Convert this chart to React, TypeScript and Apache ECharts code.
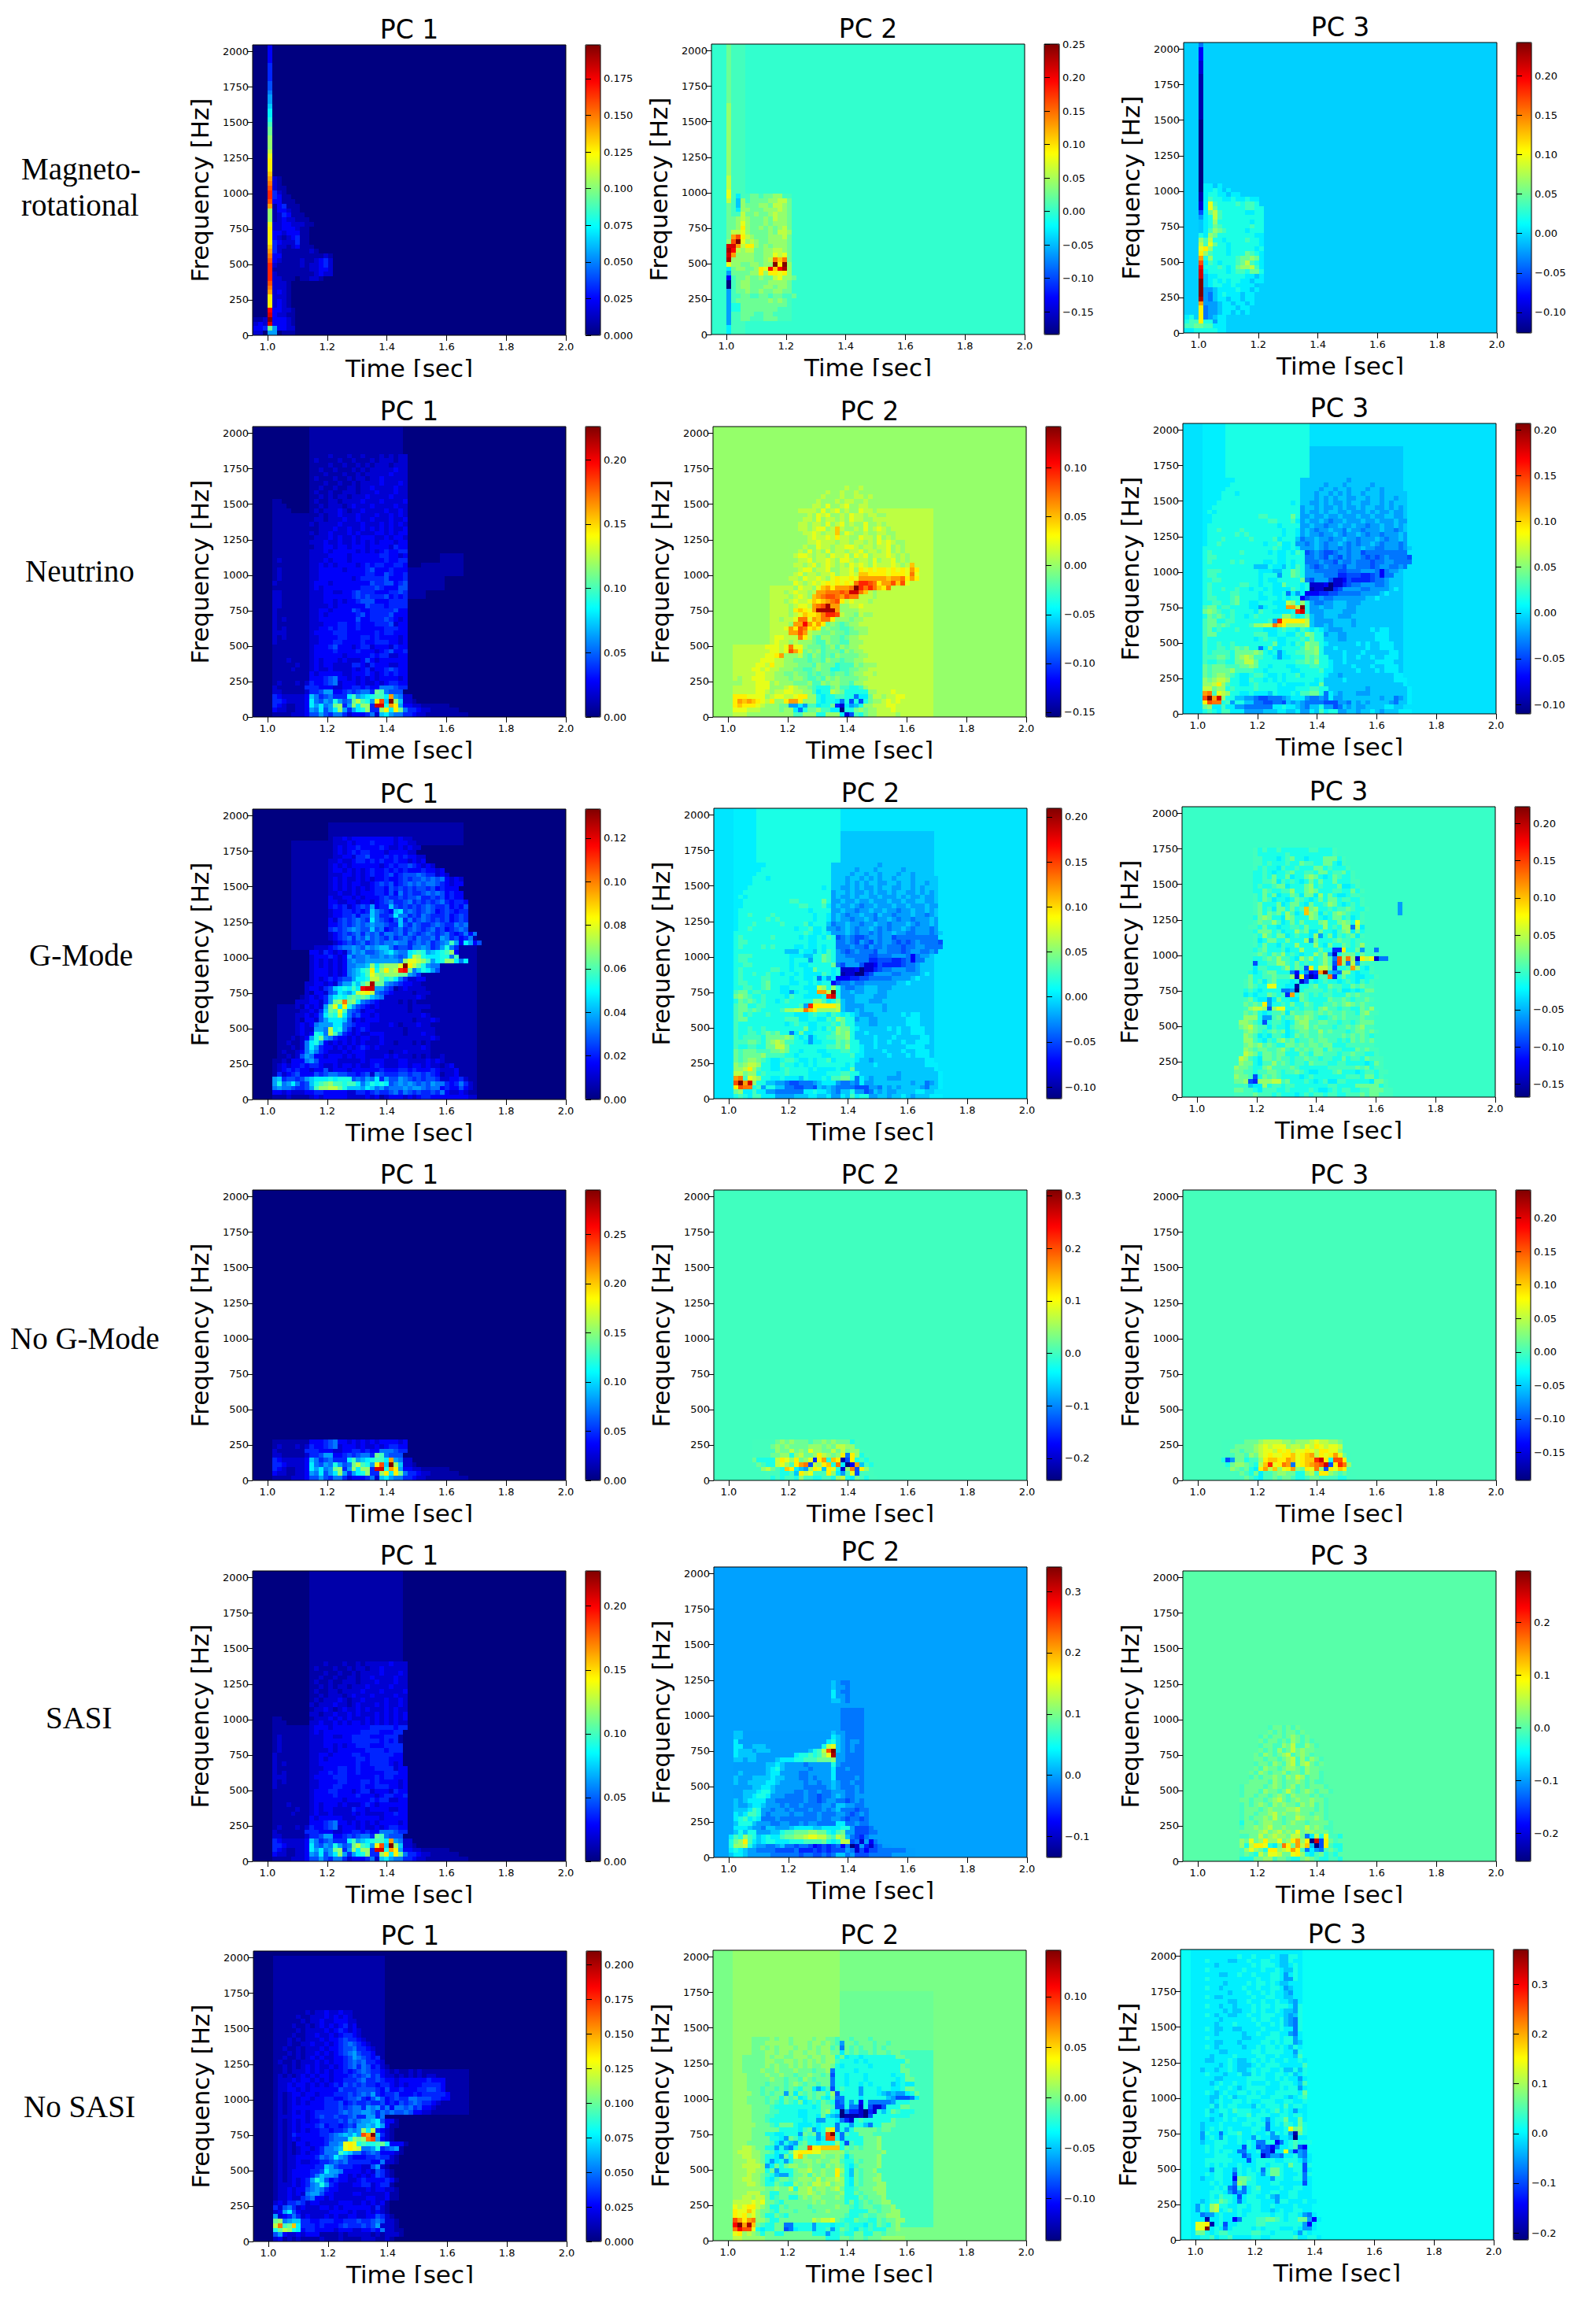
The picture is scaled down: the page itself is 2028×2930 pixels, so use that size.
import { useEffect, useRef } from "react"
import * as echarts from "echarts"

// jet colormap, evenly spaced stops
const jet = ["#000080", "#0000ff", "#0080ff", "#00ffff", "#80ff80", "#ffff00", "#ff8000", "#ff0000", "#800000"]

const rowNames = [["Magneto-", "rotational"], ["Neutrino"], ["G-Mode"], ["No G-Mode"], ["SASI"], ["No SASI"]]
const pcNames = ["PC 1", "PC 2", "PC 3"]
const timeTicks = [1, 1.2, 1.4, 1.6, 1.8, 2]
const freqTicks = [0, 250, 500, 750, 1000, 1250, 1500, 1750, 2000]

// spectrogram cells are 1/64 s by 32 Hz, first column starts at 61/64 s
const FIRST_T = 61 / 64
const DT = 1 / 64
const DF = 32
const LEVELS = "abcdefghijklmnopqrstuvwxyz" // a = bottom of the colorbar, z = top

// plot boxes
const plotLefts = [[321, 904, 1504], [321, 906, 1503], [321, 907, 1502], [321, 907, 1503], [321, 907, 1503], [322, 906, 1500]]
const plotTops = [[57, 56, 54], [542, 542, 538], [1028, 1027, 1025], [1512, 1512, 1512], [1996, 1991, 1996], [2479, 2478, 2477]]
const labelYs = [239, 726, 1214, 1701, 2183, 2677]
const labelLefts = [27, 32, 37, 13, 58, 30]

// colorbar ranges [min, max]
const ranges = [
  [[0, 0.198], [-0.184, 0.2503], [-0.126, 0.242]],
  [[0, 0.2257], [-0.155, 0.1425], [-0.1103, 0.2072]],
  [[0, 0.1333], [-0.113, 0.2096], [-0.1676, 0.2225]],
  [[0, 0.295], [-0.242, 0.311], [-0.192, 0.242]],
  [[0, 0.2276], [-0.134, 0.34], [-0.253, 0.2972]],
  [[0, 0.2097], [-0.142, 0.146], [-0.214, 0.37]],
]
const barTicks = [
  [[0, 0.025, 0.05, 0.075, 0.1, 0.125, 0.15, 0.175], [-0.15, -0.1, -0.05, 0, 0.05, 0.1, 0.15, 0.2, 0.25], [-0.1, -0.05, 0, 0.05, 0.1, 0.15, 0.2]],
  [[0, 0.05, 0.1, 0.15, 0.2], [-0.15, -0.1, -0.05, 0, 0.05, 0.1], [-0.1, -0.05, 0, 0.05, 0.1, 0.15, 0.2]],
  [[0, 0.02, 0.04, 0.06, 0.08, 0.1, 0.12], [-0.1, -0.05, 0, 0.05, 0.1, 0.15, 0.2], [-0.15, -0.1, -0.05, 0, 0.05, 0.1, 0.15, 0.2]],
  [[0, 0.05, 0.1, 0.15, 0.2, 0.25], [-0.2, -0.1, 0, 0.1, 0.2, 0.3], [-0.15, -0.1, -0.05, 0, 0.05, 0.1, 0.15, 0.2]],
  [[0, 0.05, 0.1, 0.15, 0.2], [-0.1, 0, 0.1, 0.2, 0.3], [-0.2, -0.1, 0, 0.1, 0.2]],
  [[0, 0.025, 0.05, 0.075, 0.1, 0.125, 0.15, 0.175, 0.2], [-0.1, -0.05, 0, 0.05, 0.1], [-0.2, -0.1, 0, 0.1, 0.2, 0.3]],
]
const barDecimals = [[3, 2, 2], [2, 2, 2], [2, 2, 2], [2, 1, 2], [2, 1, 1], [3, 2, 1]]
const backgrounds = [[0, 0, -0.005], [0, 0, 0], [0, 0, 0], [0, 0, 0], [0, 0, 0], [0, 0, 0.01]]

// Magneto-rotational
const magPc1Strips = [[3, "hmxzxwqqqstuvvvvutsrqqqqpnnnsuvvutsrqqqponnnmmlkjjihhgffeeeeddddd"]]
const magPc1Rows = [
  "cc.dh.bbb", "dde.hddcc", "cdc.dddcb", "bbc.dddcb", "...bdccbb", "....ddccb", "....cdcb", "....cdcb", "....cccb", "....cdcb",
  "....cccb", "....cccb", "....ccbbb.bbccb", "....cbbbbbbbbcdcc", "....bbbbbbbbccddc", "....cbbbbbcbccdec", "....dcbbbbcbbcdec", "....ddbbbbbbbbbcb",
  "....ecbbbbbbcb", "....eccbcdbbb", "....edcccebb", "....dcbcdebb", "....ddcdddbb", "....ccdddcbb", "....ccddcccbb", "....bcdccbbb", "....bcedbbb", "....bddcbb",
  "....bdebbb", "....ddbbb", "....edbb", "....ecb", "....cbb", "....cb", "....cb",
]
const magPc2Strips = [[3, "jjhhhhhhhhaadhjpyxyxnmmmmmmmmoppooonnnnnnnnnnnnnnnnmmmmmmmmmmmmm"]]
const magPc2Washes = [[4, 6, 0, 63, "l"], [4, 16, 3, 30, "l"]]
const magPc2Rows = [
  "", "", "", "....llmmlllmmmlll", "....llmmmllmmlll", "....kkmmmmmmmmll", "....kkmmmmmmmmmm", "....lmmmmmmmnmnm", "....llmmllmmlmmllm", "....lmmnmmnmmnnmm", "....lmnnmmmnnmnnm",
  "....lmnnmmmmnnnnm", "....lmmnmmnmmopnnm", "....mmmmnnqnqqpqn", "....mnnmmnqpwrwyn", "....nnmmnnmnnzqzn", "....nnnnnmmnotrtm", "....snnnnmmnnpopm", "....wonoommnnoonm",
  "....xsoqqnmnmnnnm", "....uzpnonmmnnnnm", "....suqonmmmnnnom", "....oopnmmmmnmoon", "....mnqnmmnmnmnom", "....mnpnmmmnmnnnm", "....mnonmmmnmonnm", ".....lommnmmnonnm",
  ".....jnnmmmnnnonm", ".....inmmmnnmoonm", ".....inlmmmmnnoom", ".....jllmmlmmnnl",
]
const magPc3Strips = [[3, "kmqqqqsyzzzzxxwusqponkiiihfccbbaaaaaaaaaaaaaaaabbbbbbbbbbcccdddggh"]]
const magPc3Rows = [
  "jjk.kkkjj", "llm.lljjj", "kll.kkhjj", "jk..ghijj", "....ghhijjijij", "....ghhijjjijj", "....hhhijjijjij", "....hgijjijjijj", "....hgijkjjjijj", "....hhijjjjkjjij", "....ijkkjjkjjjji", "....ijkjkjkkjjijj",
  "....ijjkkkkkkjjij", "....jkkkkjkllkmmk", "....kkklkjkmnnolj", "....jlkjkkklmolkj", "....knkkkkklmmnmj", "....nlkkkjkkkmlkj", "....qnkkkjkkkkkjk", "....lpmkkjkkkkkkj", "....lokkjkkkklkkj",
  "....jnmkkkkkkkkjj", "....jlnmlkkkkjkkk", "....jkmlkkkkkklkk", "....jknkkkkkkkjkk", "....jkolkkkkkkkkk", "....jmolkkkkkjjkk", "....jpmkkkkkkllkk", "....jplkkkklkllk", "....jlkkjjkjjkjj", "....jkkjjijj", "....jjkjij", "....jjij",
]

// low band shared by the neutrino, no g-mode and SASI PC 1 panels
const sasiBandRows = [
  "....bbbbcccdffhfeggecdddegcijhggeedccbbbbbbbbb",
  "....dccbbccdhgjfhjnhehjkneenqjqmgeedccbbbbbb",
  "....edcbbccdjhjghmnehnjnnexxksqhddccbbbbbb",
  "....eedccccdjgfhgkhfgmolkhquizniccb",
  "....edcccccdigefgeeejlhijklljshgcc",
  "....ccbbbbbceefhhddefefggemlgfff",
  "....cbbbbbbeeedddccddeededdgggfee",
  "....bcbbbcbceddefgcdddcdccdcdeedd",
  "....bbbbbbbbdddefgddcdcdcdcddddcd",
]
const neuUpperRows = [
  "....bbbbbbbbdcdddddccdddedcdededd", "....bbbbcbbbcdccdccccdcdecddefedd", "....bbbbbcbbcdcddcccceedcedddccdd", "....bbbcbbbbcdcdddcdcccdfdcdddddd", "....bbbbbbbbcddddddcdddddedeeccdd",
  "....bbbbbbbbcddddeddddedddcdefdde", "....bbbbbbbbcdddefdddcdeecdddcedd", "....cbbbbbbbccdddeeddddeddeeeddcd", "....cbcbbbbbccddddeedddeededdddcd", "....cccbbbbbcddddeeeddddddedeeddd",
  "....cbcbbbbbccddedeeddedddddeeedd", "....cbbbbbbbcccdddeeddedddeeefcdd", "....cbcbbbbbccddddddddfddeeefedcd", "....cbbbbbbbccdcddddddefdeeeefddd", "....cbbbbbbbccddcddddfeddeeeeefdd",
  "....ccbbbbbbccccdcddddddfeeedeeee", "....ccbbbbbbcccddcdcddefffdddeeee", "....ccbbbbbbcccddddddefefeeefdede", "....ccbbbbbbcccddccddefeeedddeefe", "....bbbbbbbbcdcddddddddeeefedddff", "....cbbbbbbbcdddcddddddddfeeffdef",
  "....bcbbbbbbccdddddddcdeeeeefddde", "....bcbbbbbbccddddddddddeeddfedde", "....bcbbbbbbccdddddcddddefdddeddd", "....bbbbbbbbccdcdcddddcdedeeddeed", "....bcbbbbbbcccdcdddcdddddddeddee",
  "....bbbbbbbbccccddddcddddddeeddcd", "....bbbbbbbbcccdcdddddcdcdcdeddee", "....bbbbbbbbbccddcddcdddcddddcedd", "....bbbbbbbbcccdccdccdcdcdcdddcdd", "....bbbbbbbbbcccdcdccdcdddccdcddc",
  "....bbbbbbbbcbccdcccdcdcccddcdcdd", "....bbbbbbbbbbcccdccdccdcdcdcdccd", "....bbbbbbbbcbccccdccccdcccdcdcdc", "....bbbbbbbbbccbcccdccdccdcccdccd", "....bbbbbbbbbbcbccdcccdcccdccdcdc",
  "....bbbb....bcbcccdcbccdccccdccdc", "....bbb.....bbcbcccbcdcccdccccdcc", "....bb......bcbbccbccccdcccdccccd", "............bbcbcbccbcccdccccdccc", "............bcbbcbbcccbcccdcccdcc",
  "............bbcbbcbbccbccdccccdcc", "............bbbcbbcbbcbccccdcccdc", "............bcbbbcbbcbccbccdccccc", "............bbbcbbbcbbcbcccccdccc", "............bbcbbcbbbcbcbcccccdcc",
  "............bbbbcbbcbbcbcbcccbccc", "............bcbbbbcbbcbbbcbcccbcc", "............bbbbcbbbcbbcbbbcbcbcc",
]
const neuPc1Washes = [[12, 31, 0, 63, "b"], [32, 36, 26, 32, "b"], [36, 40, 28, 33, "b"], [40, 44, 31, 35, "b"]]

const neuPc2Washes = [[4, 12, 0, 15, "o"], [12, 18, 0, 28, "o"], [18, 46, 0, 45, "o"]]
const neuPc2Rows = [
  "....ooonnnnnnnnnnllnnnkknnnjcflkmnnoooonooo", "....pppooonnnnmnnjgkmmnlljjmadkkmnnooopooo", "....qrqqqponnnmmhhjhlljkkmleakjknnoooppooo",
  "....qsrsrqpoqnnqssqnnnkjkkkkkgkfkmnnopopooo", "....qqqppppnoppoopqqnnkjkkllkkgjjmoonooppo", "....ooooopponooppoonnljkkonmkkkkknnooopoo", "....ooooopppnnnoponnmlkkkmnllkklnooooooo",
  "....nnooopppnonnnmmmnllnmnnmmlnnoooooo", "....onoopppoonnnmnnmllmlnmnmmmmnnoooo", "......oooppoonnmmnmmlmlmmlmmlmnnoonoo", "......ooppopoonnnmmllmnmmkkllmmnnooo", "........oppopoonnnmmmlnmmmklllnmnnnooo",
  "..........pppoonnmmmlmmlnmmlmmnnoooo", "..........oppoonnnomlnmlmlnmmmmnnooo", "...........oppooonnmnmnlmmmlnmnnooo", "...........pppoonnnnmmmlmnlnmnnoo", "............opoononnnmllnmmllnnnooo", ".............ppooonnomlnnmmlmnnoooo",
  ".............oooponoonnmmnmmlmmnnoooo", "..............opoonponomnmmllmnnnooo", "..............oonoponponmnmlmnnooo", "..............nooopoopnoonnnnmnnooo", "..............oonopoopopnpoonnmonnoo", "..............oonpoopnonoonnnnnoooo", "..............oonopponponoonnoopoo",
  "...............nopoopoopoonoopooono", "...............onoponoopnopoponooono", "...............nopoonopoonpoponooono", "................onpoonponopnoooonnoo", "................nponopoponoopnonpnon", "................oonpooponpnoonpnoonoponoo",
  "................nopnoonoopnoopoonpnooopnoo", "................nnoppnoopnnoopnopponnpoonon", "................noonopnopononpoponpooopon", "................nnoopnooponpponoonpnoopnon", "................nopponoonpoopnpopnoooponon", "................nnonpnonpnoonoopnoonopnon",
  "................nnnonnpoonoopponoonoopnono", "................nnnnoopooonoonoononpoponn", "..................nnopooponoonnpoonpnonoo", "..................nooponoonnponnonnoonno", "..................oonoppnoponnonpnopon", "..................oonoonpnopnonnpnnon", "..................noonpnoononpoonn",
  "..................nnonpopnnonpoonoonn", "....................oonpnopnonnpoon", "....................noonpnnopnnoonn", "....................nnonnnonoonnonn", "......................nonnnonnoonon", "......................nnonnonnon", "...........................nonnonn",
]
const neuPc2Spots: any[] = [
  [1, 26, "jakkmn"], [2, 26, "ecjhik"], [3, 26, "jgkfk"], [11, 12, "q"], [13, 13, "qs"], [14, 14, "opusq"], [15, 15, "ptpp"], [17, 18, "tq"], [18, 16, "ssus"], [19, 16, "squtqrq"], [20, 17, "sswsqsq"],
  [21, 17, "pttpsrttq"], [22, 19, "rqqrtvvu"], [23, 17, "qrqpsyyyys"], [24, 21, "stuyss"], [25, 21, "rqrstuq"], [26, 21, "rstuutsutt"], [27, 22, "sstttutxxtr"], [28, 23, "rsqssstzvtvtrqt"],
  [29, 24, "qpqpqptvvutqssurup"], [30, 25, "pqppqpssssssrsstqsq"], [31, 31, "rrqqqqpqqqptp"], [32, 31, "qpqpqqpqpqpsq"], [33, 42, "r"], [39, 26, "q"], [40, 26, "r"], [41, 26, "r"],
]

// same track in the neutrino PC 3 and g-mode PC 2 panels
const trackWashes = [[4, 26, 0, 63, "k"], [27, 46, 2, 58, "i"], [4, 8, 0, 63, "j"]]
const trackRows = [
  "....klkjlljjjhhhhiiijjiijhhjiljkkhhiihiijihiiijjj", "....mnjjljjhhggggggjjkjjihgiikhhfgihihhiiiijjii", "....quttklhkkiiggffggfihihggggfffhhgihihiiiihgiij",
  "....uzsxnkkiihhgffggghijjjhgghgjhhiiiiiiiihiighij", "....stlponkkjjkjjjikjjjkjllmmkgjihiiihhhiiiiiiiij", "....oomnnklkkkklkkkkjjjjkkkllkkiiiiiiiihiiiiiiiij", "....nnoqnlkkjjklkkkkjkjjjjkjjmiiiiiiiiiiiiiiiiij",
  "....nmnoonkkjjlkkjkjkjkkkkkkjkiiiijiiiiiiiiiijjj", "....mlmnnmlkjjkllkjjkjkkljkkkkjiihiiiiiiiiiiijj", "....mlmmmmnllllkkjkkkkkjjkkkkljjiiiiijiiijijjj", "....mlmmmlllmmnmkkjkkkjjkkkllkkjiiiijiiijiijjj", "....lkkllkkmmoomkkkkkkkkllmlnkkjiijiiiiiijjjj",
  "....lllmmlkmnonllkkjhjjkkkmlmkkiiijiijiijiijjj", "....lkllllkmmmmnmkjkhjkkllmmnkiiiijiiijiiiiijj", "....lkkllklmlmkkgjmjjkkkklnmnkiijiiiiiijiijjj", "....lkklkklkkkkkkkkmjjkjlknmmkjiiiiiijijiijjj", "....lkkkkkkkkkkjklkkjjkkklkmkkiiihhiiiiiijjj", "....lmmkkkkkkkkllljjkkjjlknmkkhiihhiiiiiijjj",
  "....lmklkkklkkkkkjjjklkkjlkjkjihhhiiiiiijijj", "....lmmlmlkkkk", "....lmmkkllkkk", "....kmlmlklkkjkl", "....mnmlkklkkkkjl", "....lmmkllkkkkjjh",
  "....kkllkklmkkjjkk", "....kllkkklmkkkkjjkkjkjkkdfgghgghhhhhhhiij", "....klkkkkllkkkkjkkjjkgjhjdddeeffggggghhhhij", "....klkklkklkkjkkjkjjjjlk", "....klkkkkkkllkkjkkjjmkk", "....kkllkkkkkkkkjkjjkkkk", "....kllkkkkkkkkkjkkkhkkmlk",
  "....klllkkkkkkkkjjjiikkmlkggghgggfffgggfhhgegh", "....kkkkkkkkkkkiiikjjikjlkhgfghgggfhhgggfghhgghg", "....klkkkklklkkkkjjkjjkjkkggghggfhgghgggfgghhgggg", "....kllkkkkkkkkkkkkkjjkkkkgghgfhgfhghhgfgfghggggf", "....klkkkkkklkkkkkjkjjkjlkfghgffghhghhfggggggggg", "....kkkkkkkkkkkkkkklkjjkjhhhihghhghghhihhgghhhghi",
  "....jkklkkkkkkkkkjkkljjkhhghihghhihghghhihghhhgh", "....jkkklkkkkklkkkkljkkkighhihhghhihhghhhihghhih", "....jkkkkkklklkkkkkkkjkkjhihhghhihghhihghhghhhih", "....jkklkkkklkkkkkkkkjkkjhihghhihhgihhghhhihhghi", "....jkkkkkkkkkkkkkkkjkkkkhhihhghhihhihhghhihhihi", "....jjkkkkkkkkkkkkllkkkljhihhihghhihhhihhihhhihh",
  "....jjkkkkkkkkkkllkkkkkmkhhihhihhihhhihhihhiihhi", "....jkjkkkkkkkkkkkkkkkkkkhihhihiihhihhhihihhihhi", "....jjkkkkkkkkkkkkkkkkkkkhiihihhihihhihiihhihihi", "....jjjkkkkkkkkkkkkkkkkjkiihhihihhihiihhiihihiii", "....jjjjkkkkkkkkkkkkkkkkkiiihihihiihhiihiihiihii", "....jjjjkkkjkkkkkkkkkkkkkiiihiihihihiihiiihiiiii",
  "....jjjjjkkkkkkkkkkkkkkkkiiiihiihiihiiihiihiii", "....jjjjjjkkkkkkkkkkkkkkkiiiiihiiihiiiiihiiii", "....jjjjjjjkkkkkkkkkkkkkkiiiiiiiiiihiiiii",
]
const trackSpots: any[] = [
  [19, 14, "lnnootrqnnnnoihhihiiiihii"], [20, 14, "kkkklhvqqqqqoihhhhiiiihii"], [21, 17, "kkkknnljkmihhiiihhhiii"], [22, 17, "kkjjjjkvxkhhhiiiihhhii"], [23, 17, "jkkjjssozkhhihhiiihh"], [24, 18, "kjjjonknkhgghhiiihhh"],
  [27, 25, "jkbccaaefhhhhgghhhhij"], [28, 25, "jkcccdaccefgghhhggh"], [29, 25, "mgfhhhfccdfeeeefggh"], [30, 26, "hhhhgggeefffeefgdgg"], [31, 26, "hhgggggffggghhhgdgh"],
]

// G-mode
const gmPc1Washes = [[4, 47, 0, 8, "b"], [5, 12, 9, 20, "b"], [16, 47, 9, 35, "b"], [8, 16, 33, 56, "b"], [16, 44, 56, 60, "b"]]
const gmPc1Rows = [
  "....bbbcbbbbcdcdddddccccdcdbcdddcdcdeeddddddddcc", "....ddcdcccddeedddddcceedefeefgegfefeefegdccdcbb", "....ghggfeefhlnnoomkiiihjighfggghghhgfggdeddfdcb",
  "....hkghjgefiklmnllklljgikjkjfghghgfgfhggedegecb", "....hieffefhijjjkjkkkfgfhgjehffhgfefeffeccddecb", ".....ecdefdddfefggffeedefcgfeeeffeffefedbccdb", "....bcdededdcddfcdddcddddddedddeededddedcccdb",
  "....bcdcddedeedccdcddcdccdedcccddcddcdccbcdb", "....bbcbdddddfddddcccccdcdddcccddccccdcdcb", ".......cbcdddddcdddcdcddccccdcdcccbcbcbbc", "......cbbcdcddcdcccdcdddcccccbccdcccccb", ".......bcbcdcddddcdcdcdedcdcccccccccdcbbb", ".......cbbcddccccdcdcdcdcccdccbcccbcbcb",
  ".......bcbcddccddcddcdcddccdccccccccccdc", "........bcdcdcdcdccddcdccdddccccbcccdcc", "........bcdccdddccdcccdedcccccccbcccccc", "........bcdcdcddccdcdedddccccdcbcccdcc", "........bcbddccddcddccdcdddcccccccbcccdc", "........bccdcddcccdcddcddcdcccccccccdcb", ".........bccdcdcdcdcdcdcddcccccccbccb",
  ".........cbdcdcdcdccdccddcdccccccbcccc", ".........cccddcdcdcdccdddcdccccbcbcb", "..........bcdcdcdcdcdcdcddcdcccccccdc", "...........cbddcdcddcdcdccdcddccccbccc", "...........cddcdcdcdcdcdcecdccbcdcccc", "...........ccddcdcdcdcddcdeddccdddcc",
  "............cdcdededcdcdcdcdcdeddccdd", "............cdddcdcdcdcdcdccdcdedccd", "............cdddcdcdcdcdcdcddcdgdccd", "............cdcdcdcdcdcdcdcdccdcddcc", "............cdcdcdcdcdcdcdcdcdcdedcc", "............cdddedcdcdcdcdcddcdcdced",
  "............ddcedcdcdcdcdcdcdcdedcddfe", ".............cccdefghghfhghhiggeffeggefhklg", ".................cdefefghgffgfgefgffegghggefgjhdf", "................cdefgegfhfgfegefgfegffgehgefdeg", "................cdefefgegfgeggfgegfefgfefgedegdg",
  "................efefghgffgfgdefgefgfefgefdefgf", "................ddefefgfgfggfeeifegfeefgfeegfg", "................dcefefgfefgfedfiegefgfefefdefe", "................cddeefdffggeefjggefegfeeefdefe", "................cddeededefgfedijfgfefgfdefedee", "................dedecdefeddeeifefefefgfeefdedf",
  "................ddccddcddcdefgeefgefefefgedeed", "................dccddcdcdddefeefeffgeefefdedd", "................ccdccdcdddeedfdgefeefgfgfdedd", "................cdcdcdcdcdeedfefefeffefdeddd", "................cdcdcddccdefefdefgfgfggfedcdd", "................cdcdccdcdcddeddefeffgfgfgdcdc",
  "................cccddcdcdeddefdefffgfeecdc", "................cddcdcdcdeddedededddeddcd", "................cdcdcddddddcdedeefedcdc", "................ccdccdeedededdeddcdcd", "................bccddceefdddedededdcc", "................bcdcdedeedddcddddcc", "................bcdcddeddddedccdcdcc",
  "................bcccdcdddeddddcddcc", "................bccdcdddddddddcdcc",
]
const gmPc1Spots: any[] = [
  [8, 11, "ghf"], [9, 10, "fhgd"], [10, 11, "gige"], [11, 11, "gjhe"], [12, 11, "gjkhd"], [13, 12, "hkmhge"], [14, 13, "kjgolhe"], [15, 13, "hhgojkge"], [16, 13, "ghhhjjgf"], [17, 14, "fhjjjif"],
  [18, 14, "fjlkojgef"], [19, 14, "eimlplgfe"], [20, 15, "hmpjqkhfe"], [21, 15, "ehmntmnjgfe"], [22, 15, "ehjkjlmlmlihg"], [23, 16, "fgjihjopqogfe"], [24, 15, "efijkjljwxxhhfe"], [25, 18, "fhhkilnymmhgfe"],
  [26, 19, "ffhjjkoomkljge"], [27, 20, "ghijlpnmnnnmmhge"], [28, 20, "ghiklqknqnovwmgikjhf"], [29, 20, "gghhinjmnnnpzqomkhgg"], [30, 20, "ghgghhhhhhhgnpponlhjknnjgj"], [31, 20, "hfgghgghghgfgjonkjjjkkgl"],
  [32, 20, "fhghffghijhggjklkhijklnd"], [33, 20, "ghgfhghiigeffegghgefhkge"], [34, 20, "fefgefgfgghggefgfgefghlhd"], [37, 25, "i"], [38, 25, "h"], [39, 25, "j"], [40, 25, "i"], [41, 25, "i"], [42, 25, "h"],
]
const gmPc3Rows = [
  "...........llllmlllklkkkjklkllkllkklllmlmmlll", "...........mmllkjlllkklkkkklkjjklkllkkllmmmll", ".............lkkjnkllkllkkkkkkkllkkkkmmmmmkl", "...........mmnlkkknoolmkkklkjkljjllkkkkkjmml", "...........nmmllkmlmlkkkkjklkkkkkkklllkmmkl",
  "...........mmllkllmmlkllmlkjjkkklmkkkjkllkll", "...........nmmlkkmnllllmlkkkkkkllllllmlmkll", "............nmmkjllnlmlkllkmlllkkllkkkkjkml", "............onlkjmmlmllkllmllkllkkmkllkmlll", ".............onmkmmlmmkkkmlkmmlllkllmllkkl", ".............nmlmmllmnlkmlmlmmkmllkkkmlmll",
  ".............mnmnlmlkkmmlmlmmlmmkkkllllll", ".............nnlkjlkmnlmkllmlmmllklkmlmlm", ".............nmljkjllkjkmlmllmllllmlmlmlk", ".............mnmlklmlmjklmmllnlmlllklmmlml", "............mnomlljlkkjlmmnlmlllkllmlmnll", "............nnmlkkkllkjkmnnllmmllkllklmmm", ".............nnnkkllmkllnmnmlkklmlmlllmll",
  ".............mlmkjkllmjmllmmlmlmllmllkmnll", ".............lnolnlllmkklkllkmnllkllkkmln", ".............mlmllkkklkmkkmlkkllmlmnmlml", ".............lmkjljlmkkjjmlkkkkmllmlkllml", ".............jkjkkmlklklomlklkllkkkmlmll", ".............klkjkkkkkkkkjllllklkljjkjkmm", ".............lmlkkmmkkjkjkklmkkmllkkmlmll",
  ".............lmkljlmkkkjkljkjklkkjklkjlkl", "..............mkkllmlllnjkljklllnkmkkjjkkl", "..............kjklmmkkkjkkklkmlkkkknkjkkl", "...............jllkkklnkmljkmkmmjkklmnkjl", "...............kkkllnnlkmklkklnlmkklmkl", "...............kklmlnllkjnlnklnlnkmmmkkkl", "...............lmlkmlnklkjkknlnkmkmmmkm",
  "...............klmkkkljkknkkkmkkkkkkkmm", "...............lkmkkjlkknkkknkjmkkmlkln", "...............ljkmmkkmkkknkmkkklmllkl", "...............lknlkmmjklkkjnkkmjlklmjl", "...............kmmmkljkknlmjjmkkjlmnjmk", "..............llkmkkjkkllkmkkknklknnnoj",
  "...............lmllnljkmkmkkkmnkkmnmkjl", "...............kmnmkkjnmkkknmkjkmmkljkl", "...............lmkmlmknljkmnmjlkmnmlkkl", "...............lmkljmmkmklkmnkklkllmlkkl", "...............lmkkkmjkmmkjmkklnmkjklkl", "...............lkmljkkjkmlkjkmkmmkllkkl",
  "...............lkmkmjkkmljmmjnkmkjjkll", "...............kkmlkkllnkkmnmkkkllkkmkl", "...............klkklmmjkkkmnklkkkmjjkl", "...............kkllmjlklkjkmkmkkmkkkll", "...............kklkmkkmjkkmnmkjkmlkkl",
  "...............kklkjkklmkkllkmmkllmkl", "...............lklkkjlkklkkkmmklkkkl", "...............llklkkklkkmllkkmmkjl", "...............llkkkjklmkkjkkkmmmkl", "...............lkkkkkklkkkkkkkkkl", "...............lklkklkkkkkkllkkkl",
]
const gmPc3Spots: any[] = [
  [2, 14, "ij"], [3, 14, "fenn"], [4, 15, "f"], [16, 17, "f"], [17, 17, "hh"], [19, 16, "onfnpp"], [20, 17, "qh"], [21, 17, "jhj"], [22, 22, "esk"], [23, 21, "gghak"], [24, 18, "pp"], [24, 23, "jb"], [25, 25, "cf"],
  [26, 24, "cpebdlltek"], [27, 23, "gdjhdeszihgn"], [28, 26, "fqkoo"], [28, 32, "e"], [28, 36, "s"], [29, 15, "f"], [29, 32, "fungh"], [29, 36, "oh"], [30, 32, "guntncqopcgg"], [31, 31, "hc"], [32, 32, "eeqk"], [32, 38, "h"], [32, 41, "g"],
  [34, 27, "h"], [35, 29, "h"], [37, 36, "g"], [38, 37, "p"], [40, 26, "r"], [41, 26, "r"], [40, 46, "h"], [41, 46, "h"], [42, 46, "h"],
]

// No g-mode
const nogPc2Rows = [
  "...........lklkllknllkkllknokjmlkll", "...........lllkkliqoplllqnjhlpflll", "..........nomlkrqjihnqpiqpkcntfqnl", ".........mlkkopnlqstfonqrktjadsilk", "........mkkkkoqpnqmnpeqskrqbfqklk", "........llllmmnnknommnqonmnqgqnkl", "........lllllnmmomnmpnnmmomomnnl", "........llllmnmnmmmmnnnmnmoonnl", "........lllllmnmnmmmlmmnmnmmmkl",
]
const nogPc3Rows = [
  "...........llmlkjllmlmmlkklmmllllkkll", "...........lmlkmjllmnnmmkknolqqnmlml", "..........nmlmkjqsornpqsnmqptnfqprql", "........lkmnnmlkorvpqtsgpqrstuxfqvtnl", "........kfhmmkllnqrrqqsrpqrrvxqkuuql", "........lllmmlnmopqppqqrpqrsoqpqspml", "........llmmlmmnoppoqpqoppqpoqqppnl", "........lllmmmmnopopppnoonpoqpoppol", "........lllllmmmnoooonnmnnnopoonnml",
]

// SASI
const sasiPc2Washes = [[4, 29, 6, 26, "i"], [27, 31, 3, 32, "g"]]
const sasiPc2Rows = [
  "...ijjihhhhhggggggfggffgfgiighfffggggghhhhh", "...jkjihhggggffffgeeefefefffhgcfdffgggggghh", "...knnokihhgghiggfggfdefefgdgachecfghh", "...kmnqljijkkjjjkkkllllmkjkoofgchdgh", "...jlknlkijkjjlmmnnoppoomlonigfegh", "....ikikkhhhiikllmmmnnmmkjlmhhfffgg", "....jjjihhgiihhhijjjjiijjjjkkhfffg",
  "....ikkkihhhgghhgghghhggggjjgghgg", "....jkljkjggghgggggggghgghhgfggfg", "....jijllkhghhhhghhggghggghhgfghg", "....iiijlkhhghhghggghgghghigggfgg", "....ihhijjihhhghgghgggghhgiihhgg", "....ihijjjjhhgggggghggfghhggfghg", "....hhiijkkjhhhgggghggfgghihgghh", "....hhiiijkkihhhhgghgghgghhhgghg",
  "....hhhhiijjihhhhhhggggghihggghg", "....ihhiiiijjihhhhhghhghhihgghgg", "....ihhhiiiijiihhhgghghhhjgggghg", "....hihhhhhijjhhhhgghhhhhjggggg", "....hhhhhhhijkihhhhhghhhhjgghgg", "....hhhhhhhiijihhhhghhhhhjghhg", "....iihiihhhhijjjkkkkkjjjlhhgg", "....jiiiihhhhhhhhjkklllljpggg",
  "....jiiihiiihhhhhhhhijllnoqwjhgg", "....jjhhiiihhhhhhhhhhhhjkpzxhhg", "....jhhhhhhhhhhhhhhhhhhhhkooihhg", "....iihhhhhhhhhhhhhhhhhhhjihggg", "....iihhhhhhhhhhhhhhhhhhhihhggg", "", "", "", "", "", "",
  ".........................iihg", ".........................jhhg", ".........................jhgg", ".........................ihhg", ".........................ihgg",
]
const sasiPc2Spots: any[] = [[20, 25, "khgg"], [21, 18, "klllmmmnhhg"], [22, 21, "klnpyhhg"], [23, 21, "klouzihg"], [24, 21, "hhkopihg"], [25, 24, "jkihg"]]
const sasiPc3Rows = [
  "............kkkmmnnlmmlkkmnmlkkllk", "............lmlkomppommpqnkjlmklk", "............lnpnmkqqnopsqlgjhglmlk", "............nkoqqpkjmtqmsoriafqlkk", "............nmpmnqnnpmnqsnqaxfqml", "............llmmomnonnmoomgjokpllk", "............mmmmnomnomnmpmnnmmml",
  "............lmmnmnommnmmmmomnmll", "............kmmlmnnmmlmnmmlmmmml", "............lmlmmnmomlmmonmmnml", "............lmmlmmnomnmmnmmlmml", "............lmmmlmnmmmnnommmlml", "............lmlmnmlnmnmmlnmnlml", "............mmlmmlmnomlmnmmnmml", "............lmmlmmlmnmlnmmmlml",
  "............lmmmlnmmlmomlmnmlmml", "............lmmmmlmnmlmnlmlmmml", "..............mmmmlnmlmmnmlmll", "..............lmlmmnmlnmonlmml", "..............mlnmlmmnlmmlnmml", "...............mlnmmlmnnmlnmm", "...............lmmlnmlnolnomlm", "...............mmlmmlmnolnlnml", "...............mlnmlmnolmnml",
  "................mlmlnlmomnmm", "................lmmllnmollnml", "................mlmmlmlnmlml", "................lmlmmlmnmlm", "..................mlmlmmlm", "..................lmmlmlm",
]
const sasiPc1Rows = [
  "....bbbbbbbbdcdddddcccdddddcddddd", "....bbbbcbbbcdccdccccdcdccccddedd", "....bbbbbcbbcdcddcccceddcddddccdd", "....bbbcbbbbcdcdddcdcccdedcdddddd", "....bbbbbbbbcddddddcdddddedeeccdd", "....bbbbbbbbcddddeddddedddcdeedde", "....bbbbbbbbcdddeedddcdeecdddcedd",
  "....cbbbbbbbccdddeeddddeddeeeddcd", "....cbcbbbbbccddddeedddeededdddcd", "....cccbbbbbcddddeeeddddddedeeddd", "....cbcbbbbbccddedeeddedddddeeedd", "....cbbbbbbbcccdddeeddedddeeeecdd", "....cbcbbbbbccddddddddeddeeeedcd", "....cbbbbbbbccdcddddddeedeeeeddd", "....cbbbbbbbccddcddddeeddeeeeedd",
  "....bcbbbbbbccccdcddddddeeeedeee", "....bcbbbbbbcccddcdcddeeedddeeee", "....bcbbbbbbcccddddddeeeeeedede", "....bcbbbbbbcccddccddeeeedddeee", "....bbbbbbbbcdcddddddddeeeedddee", "....bbbbbbbbcdddcddddddddeeeeedee", "....bbb.....ccdccdcdcddcdcdcdcdcc", "....bb......bcccdcdcdcccdcdcdcdcd",
  "............ccbccdccdcdcccdcdcdcd", "............bccdcbcdccdcdcccdcdcc", "............cbcccdccbcdcccdcdccdc", "............bcbcccdcbccdccccdccdc", "............bbcbcccbcdcccdccccdcc", "............bcbbccbccccdcccdccccd", "............bbcbcbccbcccdccccdccc", "............bcbbcbbcccbcccdcccdcc",
  "............bbcbbcbbccbccdccccdcc", "............bbbcbbcbbcbccccdcccdc", "............bcbbbcbbcbccbccdccccc", "............bbbcbbbcbbcbcccccdccc",
]
const sasiPc1Washes = [[12, 31, 0, 63, "b"]]

// No SASI
const nosPc1Washes = [[4, 27, 36, 62, "b"], [28, 45, 28, 37, "b"]]
const nosPc1Rows = [
  "....cdbcbcbbbbcbbbcbbbbcccbbcb", "....fhdccdcdddbbbbcbcccccbcbcccb", "....kmonkjdeeddddcdddccddedgccbb", "....otlmrjeeededddefeeefefhcccb", "....mnghiieeddeeeddeeefeefgfccb", "....hcdegecdcccdcdccddccddfecb", "....cdhjfdccccccddddcdccdcdcb", "....ecfgecdcccddcdcddddddcecb",
  "....cdceefecddccccdddccdcdcdb", "....bccdccefgddcdcccccccddccdbb", "....bccdcdcghhfddccccddcccccdbb", "....bccdcddfghgeddccccccdcddccb", "....bcccdcdeghkhedcccddeecdeeb", "....bcbcdcdehkifdeddccdeddddedb", "....bcbcddddegihhgddcdcdcdfecb", "....bcbcddddeefjhhgddddcdcfecb",
  "....bcbccddddeeihfeeeddccfhcb", "....bcbccdccddeefgfgeeeeeddgccb", "....bcbccddddegfgjhgedddeefeecb", "....bcbcbcdcddegggljiggefgfdddcb", "....bcbcbcddcdegghijqpogghkefghb", "....bcbcbddcdddegghjppklkklmjdddb", "....bcbcdcdddddefgggknmmtuhdcb", "....bcbcedddddeefghihjhusziecb", "....bcbcdcdcddeedeefhghnjoedcb",
  "....bcbcdcdddefdeedefehhihjhdbb", "....bcbcdcdcddeeeefegfghhijfddb", "....bcccdddcdefeefeefgeehheg", "....bcbcdcdcdeeeeefgfgghhgegfgffgfddccb", "....bcbcdddddddeeefefggehghegdggfgefddc", "....bcbcdcdcdddeeefdefeefeefdedfefgfeedc", "....bcbcdcddcddeeddeffgedfhfdefeeggfffeedd",
  "....bcbcddcddcdddeeefefgfhedeefdddedeeeeed", "....bccddcdcddddddfeeeffffedfddedddeeffed", "....bccdcddcdcdcdedfefefeedeedcdcdddeeeed", "....bcccdcddcdcdcddeeefgeefeddcddddddeddd",
  "....bcbcbcdcdcddcdddefefgefdccbcbcbcbcc", "....bbcbcccdcdcdcddedefgfeedcbcbbcbcb", "....bbcbcbcdcdccdcdefgegfdecb", "....bcbbcbcccdcdcddefgfgeedc", "....bbcbbcbcdcdccddefhgfede", "....bbbcbcbccdcdcdefghfeed", "....bbcbbcbcccdcddeffgeedc", "....bbbcbbccdccdcdefgfedc", "....bbbcbcbcccdcddefeedcb",
  "....bbbbcbbccdccdcdeedcbb", "....bbbbbcbccccdcdedcdcb", "....bbbbcbbcbcdcdcdecdbb", "....bbbbbbcbccdccdddccbb", "....bbbbbcbbcccdcdcdcbbb", "....bbbbbbbcbccdccdccbb",
]
const nosPc1Spots: any[] = [[22, 23, "ntuh"], [23, 23, "uszi"], [24, 23, "njoe"], [20, 19, "pqp"], [21, 19, "pqp"]]
const nosPc2Washes = [[4, 26, 0, 63, "n"], [27, 46, 3, 41, "l"], [27, 46, 42, 54, "m"], [12, 26, 3, 30, "m"]]
const nosPc2Rows = [
  "....oonnnnnmmmmmmmmmmmmmkkkmmlmmlmmmnnnnn", "....pqnonmkmmkkmmmmmmkkkhkklkkmmkkmmlmm", "....twuupkjkkmmfgjkkkhkklhkmlkjlklkkkmmn", "....wzsyrmlkkmmggkkkkhkkkjkklkkkjlkmlkmn", "....usqstnnmkkmmmmmmmonoopmlkkmllkkmlmmnn", "....qpqopnmkkmlkmmmmmmmmmmmmlkklmllmmnnn",
  "....qpprpnmmlkmmmlmmmlmmnmmmmkkkkmmlmmnn", "....popqqonmkkmlmmmmlmmmmmnmmlklmmllmmn", "....oooopopmmlkmmmmmmnmnmmmmkmklmlmmnn", "....nnoonoomklmmkkmnmnnmmmnmkkkmlmmmn", "....nnnooommkkmmmmnnonmnmmmnkkmlmmmnn",
  "....nnnnnnnmmnmmoknnomnnmnomkklmmmnnn", "....nnnoonmkkmlkknmnmoonomnnkjmlmmmnn", "....nnoonnmkjlmmlmnnnmomnnonkjmlmmnn", "....nnnonnmlkihhkmmnlnmnmmqmkimlmmmn", "....nnnoonnkmhkkkmnnommnmmqnkimlmmn", "....nnoooonhjmkmnnmmnmmlnmnmkjlmmmmn",
  "....nnnoonmkhjkhkmmnnmnmmnnlkkmlmmmn", "....nnoonnmkkjhmkpqrnmmnmmnmjlmmmmmn", "....nooonnmmljkkmpqqqqppnnnnglmmmmmmn", "....nnoonmmkkhkhkmkmurqqrrrrglmlmmmn", "....nnnmmmmmljhkihlmkkjkkknfglkmmmmn",
  "....nnnnmmmmkkjhmljlkkhjkntuelkmmmmn", "....nnnnmmmkkjjkkkhmlmhkkouzdhlkmm", "....nnnnmmmmmmkkkkjlmhjkkoqjfckkmmmlmm", "....nnnnnmmmlkmmmkjjjkjkgkkkfhfiigkkmmm", "....nnnnmmmlkkkkkkkjkkhhkkjlgecdkfkjkmm",
  "....nnnnmmmllkkkkkjjkkjmjihjabbbcakfkkkk", "....nnnnmmmmllkkkkjjkkkmnkjjaeeecaeckikmlkk", "....nnnnmmmmlkkkkkkkkjkmmlfjgggcgfccffkkmm", "....nnnmmmmlmlkmlkmjklkmlkfkhhdgggggkiikk", "....nnnmmmmlmmkmlmjkmlmkjmgkjkjkkiihfffgkkjj",
  "....nnnnmmlmlmmhmjmlmlmmknfkkkkhkkkjihhhjjkm", "....nnnmmmlmmlmlmlkmmjhjlfklkkkhkkkjkkjjkmm", "....nnnmmmmlmmmlmnmlmmlmmgkkjkkjkjkkkkijkjj", "....nnnmmmmmnmmlmmlnmlmmmgkkjkkkjkkkkkkjkmm", "....nnnmmmmnmmnmmlmmnmmlmfkkjkkkjkkkkkjkkm",
  "....nnmmmmnmmnmmmnmmmlmmngkkkkjkkkkkkkkkmm", "....nnmmmmmnmnmmnmnmnmmnnmkjkkkkkjkkkkkkm", "....nnmmmmmnnmmnnmnmnmnmnnlkkkjkjkkkkkkkkm", "....nnmmmmmnmnnmmnnnmnnmnnkmjkkjkkkkkkkmm", "....nnnnmmmnnmnnmnnmnnmnnmmjmlmllmlmmlmm",
  "....nnnnmmnmnmnnnmnnmnmnnlmgmlmlmmlmlmmm", "....nnnnmmmnnnnnmnnnmnnmnmlhmmlmmmlmmlm", "....nnnnmmmmnmnnmnnnnmnnmmlmmlmmmlmmmm",
]
const nosPc2Spots: any[] = [
  [18, 17, "prnm"], [19, 17, "pqqqppnnnnnlm"], [20, 16, "gkmmuqqrrrrkml"], [21, 23, "kkknkflkk"], [22, 24, "uukgkkkk"], [23, 24, "uzkglkkm"], [24, 24, "oqgkhkmm"], [25, 24, "kkgkkhkk"], [26, 27, "gecklkkkkkkm"],
  [27, 27, "abbbcafkkkkkkkk"], [28, 27, "ageecaeckikmlkk"], [29, 27, "fkggckfccfkkk"], [30, 27, "gkhkdkggggghkkk"], [31, 27, "gkkkjkkkkkihfffg"], [32, 38, "ihh"],
]
const nosPc3Washes = [[2, 25, 0, 63, "j"]]
const nosPc3Rows = [
  "..jjkkljkkljjjjkkjjkkkkkljjkkj", "...mmkjkllkkkkkllkkjkkkkjhkj", "...ppzjkjgjkkkkjkjkkkjjjkjhhj", "...ppqbjkfjjkkkkllkkkkkkkkhdj", "....jbjjkjjdgkkkllmmlkjkkmmhdj", "....ghhjkjjjkjkkkkkjkkjkkjhgj", "...hkjnojkljkjjkkjjijkjjkkjj", "...hkjnokkjjkkjkkjjkjjjjkjjj",
  "....ijkkmlkjgjkkkjjjhkkjjjkjj", "....jjkjlkkjfjkkjjkihjjkkjjj", "....jjkkkjhfhgjkkjjkkjjkkjjj", "....jjjkjkgfkgjkljjjjkjjkkjj", "....jjkjkjjgnmkkjjjkkjjjjjfj", "....ijjkkjjdmmlkjjjhkkjjkkgj", "....jkjkkjjfkjkkjhkmmkjjjkgk", "....jjhkkjjhkjkjkgkmmkjjkkfj", "....jkjkjkjjkjjjkkjkkkjmkkfk",
  "....jkkkkkkjjjfjkkkkjjkkkjhj", "....jjjkkkjjjfhjjcfhhgjjkhgj", "....jkjkjkkjggjjkffcjjpiehg", "....jkjkkjjjjfkjfgfdgjjklfd", "....ijjkkkjjkjkjggkkdgjklkkk", "....hjkjhkjjkjjhkjjhhjjiajj", "....hkjjgjkkljjkjjkhkjkhbmk", "....ijkjkjkjjjjkkjgjjjkpmnk",
  "....ijjjkjjjjkkjkkgjkjlkjmk", "....jjijjkjkjjkkkjhjkkmjjmj", "....jkjjikjjkkljkkkjjkkjkkj", "....jkijkkjlkkkjjkjkljkjhjj", "....jjkikjkkjjjikjkkkjljkkj", "....jjijkjjkkjkjjkkkjjkkjjk", "....jjiikjkijjkkkjjkkkjijkl",
  "....jkjijkjjkkjkjkjjkkkkkjm", "....jjjkjjkjijkkkkjjjkjkkhj", "....jjijkjjkjjkjjjkjjkkkjil", "....jjjiijjjjjkkkkjjkjkjjhj", "....jkjjjijjkiikjkjjkkjkijk", "....ijjijjkjiijkjkkjjkiikik", "....jjjjijkjiiijkjkkkjjjjjl", "....jiijjjkjiijkjkjkjjkjjkj",
  "....jjijjjjkjjjjkkjjkjjjil", "....jjjjiijjjjjkkjkkkkjjhk", "....jkjijjjjjijjkjkkjkjikj", "....jjjiijjjijjjjkkjkjkkhi", "....jkjjjjjjjiijjjkkkjkkhj", "....jjjijjjjjijjkjjkkjjhgj", "....jkjiijjiijjjjkjjjkjjgk", "....jjjijjjkjjjjkjjkjkihgk",
  "....jjjjijjjjjjkjkkjjkihgk", "....jkjijjiijjkjjkkkjjihik", "....jjjjjijiijjkjkjjkjiihk", "....jkjjijjijjjkjkkjkkkjhk", "....jjjjjjiijjkjjkjjkjjihj", "....jkjiijjjjjjkjjkkjjiij", "....jjjjjjijjjkjjkjkjjihj", "....jkjjijjjjkjjkjjkkjhij",
  "....jjjjjijjjjkjkkjkjiijj", "....jkjjjjjjjjjjkjjkkjhhk", "....jjjjiijjkjjkjjjkkjhjk", "....jkjjjjjjjkjjjkjjkjiik", "....jjjijjjjjjjkjkkkjiijk", "....jkjjjjiijjkjjkkjjiikj", "....jjjjjjjjkjjkjjjkjiikk",
]

const panelCells: any[][] = [
  [{ rows: magPc1Rows, strips: magPc1Strips }, { washes: magPc2Washes, rows: magPc2Rows, strips: magPc2Strips }, { rows: magPc3Rows, strips: magPc3Strips }],
  [{ washes: neuPc1Washes, rows: [...sasiBandRows, ...neuUpperRows] }, { washes: neuPc2Washes, rows: neuPc2Rows, spots: neuPc2Spots }, { washes: trackWashes, rows: trackRows, spots: trackSpots }],
  [{ washes: gmPc1Washes, rows: gmPc1Rows, spots: gmPc1Spots }, { washes: trackWashes, rows: trackRows, spots: trackSpots }, { rows: gmPc3Rows, spots: gmPc3Spots }],
  [{ rows: sasiBandRows }, { rows: nogPc2Rows }, { rows: nogPc3Rows }],
  [{ washes: sasiPc1Washes, rows: [...sasiBandRows, ...sasiPc1Rows] }, { washes: sasiPc2Washes, rows: sasiPc2Rows, spots: sasiPc2Spots }, { rows: sasiPc3Rows }],
  [{ washes: nosPc1Washes, rows: nosPc1Rows, spots: nosPc1Spots }, { washes: nosPc2Washes, rows: nosPc2Rows, spots: nosPc2Spots }, { washes: nosPc3Washes, rows: nosPc3Rows }],
]

const PLOT_W = 398
const PLOT_H = 369
const FONT = "DejaVu Sans"

function buildCells(def: any, vmin: number, vmax: number, bg: number) {
  const val = (ch: string) => vmin + ((vmax - vmin) * LEVELS.indexOf(ch)) / 25
  const tOf = (i: number) => FIRST_T + i * DT
  const cells: number[][] = [[0.95, 2, 0, 2048, bg]]
  const put = (i: number, r: number, ch: string) => {
    if (LEVELS.includes(ch)) cells.push([tOf(i), tOf(i + 1), r * DF, (r + 1) * DF, val(ch)])
  }
  for (const [i0, i1, r0, r1, ch] of def.washes || []) {
    cells.push([tOf(i0), tOf(i1 + 1), r0 * DF, (r1 + 1) * DF, val(ch)])
  }
  ;(def.rows || []).forEach((line: string, r: number) => {
    for (let i = 0; i < line.length; i++) put(i, r, line[i])
  })
  for (const [i, line] of def.strips || []) {
    for (let r = 0; r < line.length && r < 64; r++) put(i, r, line[r])
  }
  for (const [r, i0, line] of def.spots || []) {
    for (let k = 0; k < line.length; k++) put(i0 + k, r, line[k])
  }
  return cells
}

function renderCell(_params: any, api: any) {
  const a = api.coord([api.value(0), api.value(2)])
  const b = api.coord([api.value(1), api.value(3)])
  const x = Math.round(a[0])
  const y = Math.round(b[1])
  return {
    type: "rect",
    shape: { x, y, width: Math.round(b[0]) - x, height: Math.round(a[1]) - y },
    style: { fill: api.visual("color") },
  }
}

function buildOption() {
  const grid: any[] = []
  const xAxis: any[] = []
  const yAxis: any[] = []
  const series: any[] = []
  const visualMap: any[] = []
  const graphic: any[] = []

  const tickStyle = { length: 7, lineStyle: { color: "#000", width: 1 } }

  rowNames.forEach((lines, row) => {
    graphic.push({
      type: "text",
      left: labelLefts[row],
      top: labelYs[row] - 24 * lines.length,
      style: { text: lines.join("\n"), font: '39px "Liberation Serif"', lineHeight: 46, fill: "#000", align: "left" },
    })
    pcNames.forEach((pc, col) => {
      const left = plotLefts[row][col]
      const top = plotTops[row][col]
      const [vmin, vmax] = ranges[row][col]
      const idx = grid.length
      grid.push({ left, top, width: PLOT_W, height: PLOT_H, show: true, borderColor: "#000", borderWidth: 1, backgroundColor: "transparent", z: 6 })
      xAxis.push({
        type: "value", gridIndex: idx, min: 0.95, max: 2, z: 6,
        splitLine: { show: false },
        axisLine: { show: false },
        axisTick: { ...tickStyle, customValues: timeTicks },
        axisLabel: { customValues: timeTicks, fontFamily: FONT, fontSize: 13, color: "#000", margin: 8, formatter: (v: number) => v.toFixed(1) },
        name: "Time [sec]", nameLocation: "middle", nameGap: 42,
        nameTextStyle: { fontFamily: FONT, fontSize: 31, color: "#000", verticalAlign: "middle" },
      })
      yAxis.push({
        type: "value", gridIndex: idx, min: 0, max: 2048, z: 6,
        splitLine: { show: false },
        axisLine: { show: false },
        axisTick: { ...tickStyle, customValues: freqTicks },
        axisLabel: { customValues: freqTicks, fontFamily: FONT, fontSize: 13, color: "#000", margin: 5, formatter: (v: number) => String(v) },
        name: "Frequency [Hz]", nameLocation: "middle", nameGap: 52,
        nameTextStyle: { fontFamily: FONT, fontSize: 31, color: "#000" },
      })
      series.push({
        type: "custom", coordinateSystem: "cartesian2d", xAxisIndex: idx, yAxisIndex: idx, clip: true, silent: true,
        encode: { x: [0, 1], y: [2, 3] },
        data: buildCells(panelCells[row][col], vmin, vmax, backgrounds[row][col]),
        renderItem: renderCell,
      })
      visualMap.push({
        type: "continuous", min: vmin, max: vmax, seriesIndex: series.length - 1, dimension: 4, show: true,
        left: left + PLOT_W + 25, top, itemWidth: 19, itemHeight: PLOT_H, padding: 0, text: null, calculable: false, hoverLink: false, silent: true,
        inRange: { color: jet },
      })
      graphic.push({
        type: "text", z: 20,
        style: { x: left + PLOT_W / 2, y: top - 20, text: pc, font: `33px "${FONT}"`, fill: "#000", align: "center", verticalAlign: "middle" },
      })
      // the xlabel is cut off under the baseline in the picture
      graphic.push({ type: "rect", z: 20, shape: { x: left, y: top + PLOT_H + 53, width: PLOT_W, height: 12 }, style: { fill: "#fff" } })
    })
  })

  // colorbars: one thin grid per panel carrying the ticks next to the visualMap bar
  rowNames.forEach((_lines, row) => {
    pcNames.forEach((_pc, col) => {
      const [vmin, vmax] = ranges[row][col]
      const idx = grid.length
      const decimals = barDecimals[row][col]
      grid.push({ left: plotLefts[row][col] + PLOT_W + 25, top: plotTops[row][col], width: 19, height: PLOT_H, show: true, borderColor: "#000", borderWidth: 1, backgroundColor: "transparent", z: 6 })
      xAxis.push({ type: "value", gridIndex: idx, min: 0, max: 1, show: false })
      yAxis.push({
        type: "value", gridIndex: idx, min: vmin, max: vmax, position: "right", z: 6,
        splitLine: { show: false },
        axisLine: { show: false },
        axisTick: { ...tickStyle, customValues: barTicks[row][col] },
        axisLabel: {
          customValues: barTicks[row][col], fontFamily: FONT, fontSize: 13, color: "#000", margin: 4,
          formatter: (v: number) => v.toFixed(decimals).replace("-", "\u2212"),
        },
      })
    })
  })

  return { animation: false, backgroundColor: "#fff", grid, xAxis, yAxis, series, visualMap, graphic }
}

export default function App() {
  const chartRef = useRef<HTMLDivElement>(null)

  useEffect(() => {
    if (!chartRef.current) return
    const chart = echarts.init(chartRef.current, null, { renderer: "svg" })
    chart.setOption(buildOption() as any)
    return () => {
      chart.dispose()
    }
  }, [])

  return <div ref={chartRef} style={{ position: "absolute", left: 0, top: 0, width: 2028, height: 2930 }} />
}
